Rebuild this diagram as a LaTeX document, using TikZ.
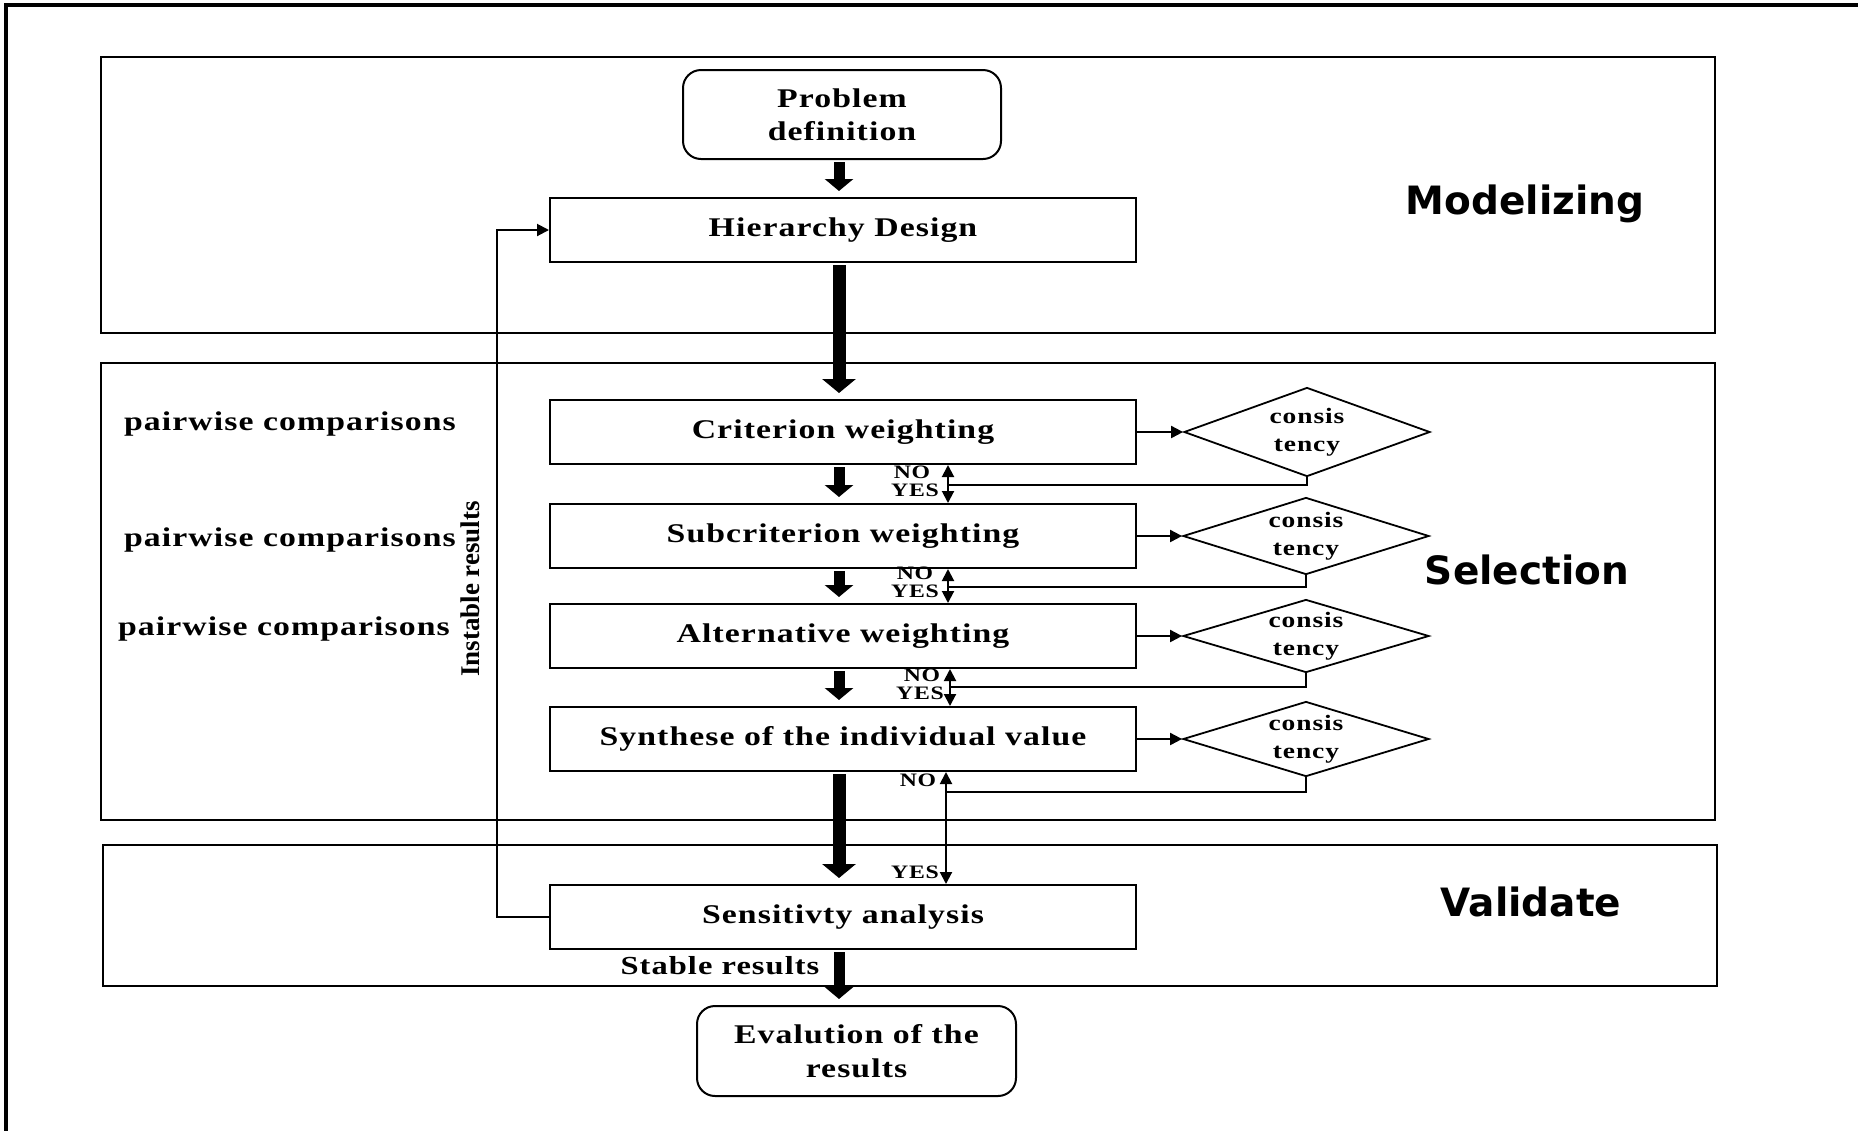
\documentclass[tikz,border=0pt]{standalone}
\usepackage{fontspec}
\setmainfont{Liberation Serif}
\newfontfamily\lsfont{Liberation Serif}[FakeStretch=1.25, LetterSpace=4]
\newfontfamily\sanslbl{DejaVu Sans}
\usetikzlibrary{arrows.meta,shapes.geometric}
\begin{document}
\begin{tikzpicture}[x=0.5pt,y=-0.5pt,
  panel/.style={draw, line width=1.2pt},
  box/.style={draw, line width=1pt, minimum width=293pt, minimum height=32pt, inner sep=0pt,
     font=\lsfont\bfseries\fontsize{13.5}{16.5}\selectfont, align=center},
  rbox/.style={box, rounded corners=9pt, minimum width=159pt, minimum height=44.5pt},
  dia/.style={draw, diamond, aspect=3, inner sep=0pt, line width=0.9pt, minimum width=123pt,
     font=\lsfont\bfseries\fontsize{11}{14}\selectfont, align=center},
  lbl/.style={font=\lsfont\bfseries\fontsize{13.5}{16}\selectfont, inner sep=0pt},
  yn/.style={font=\lsfont\bfseries\fontsize{9.5}{10}\selectfont, inner sep=0pt},
  phase/.style={font=\sanslbl\bfseries\fontsize{19.5}{22}\selectfont, inner sep=0pt},
  thinarrow/.style={line width=1pt, -{Triangle[width=6pt,length=6pt]}},
  dblarrow/.style={line width=1pt, {Triangle[width=6pt,length=6pt]}-{Triangle[width=6pt,length=6pt]}},
  fbline/.style={line width=1pt},
  bigarrow/.style={line width=5.5pt, -{Triangle[width=14pt,length=6pt]}, shorten >=3pt, shorten <=1pt},
  hugearrow/.style={line width=6.5pt, -{Triangle[width=16.5pt,length=7pt]}, shorten >=3pt, shorten <=1pt}
]
\useasboundingbox (0,0) rectangle (1858,1131);
\draw[line width=1.8pt] (1858,5) -- (6,5) -- (6,1131);

% panels
\draw[panel] (101,57) rectangle (1715,333);
\draw[panel] (101,363) rectangle (1715,820);
\draw[panel] (103,845) rectangle (1717,986);

\node[phase] (tmod) at (1525,204) {Modelizing};
\node[phase] (tsel) at (1527,570) {Selection};
\node[phase] (tval) at (1531,902) {Validate};

% main boxes
\node[rbox] (prob) at (842,114.5) {Problem\\definition};
\node[box] (hier) at (843,230) {Hierarchy Design};
\node[box] (crit) at (843,432) {Criterion weighting};
\node[box] (sub) at (843,536) {Subcriterion weighting};
\node[box] (alt) at (843,636) {Alternative weighting};
\node[box] (syn) at (843,739) {Synthese of the individual value};
\node[box] (sens) at (843,917) {Sensitivty analysis};
\node[rbox, minimum width=159.5pt, minimum height=45pt, font=\lsfont\bfseries\fontsize{13.5}{17}\selectfont] (eval) at (856.5,1051) {Evalution of the\\results};

% diamonds
\node[dia, minimum height=44.5pt] (d1) at (1307,432) {consis\\tency};
\node[dia, minimum height=38.5pt] (d2) at (1306,536) {consis\\tency};
\node[dia, minimum height=36.5pt] (d3) at (1306,636) {consis\\tency};
\node[dia, minimum height=37.5pt] (d4) at (1306,739) {consis\\tency};

% side labels
\node[lbl] (pc1) at (290,424) {pairwise comparisons};
\node[lbl] (pc2) at (290,540) {pairwise comparisons};
\node[lbl] (pc3) at (284,629) {pairwise comparisons};
\node[font=\bfseries\fontsize{13.5}{15}\selectfont, rotate=90, inner sep=0pt] (instab) at (470,589) {Instable results};
\node[lbl, font=\lsfont\bfseries\fontsize{13}{15}\selectfont] (stable) at (720,966) {Stable results};

% thick vertical arrows
\coordinate (ax) at (839,0);
\draw[bigarrow] (prob.south -| ax) -- (hier.north -| ax);
\draw[hugearrow] (hier.south -| ax) -- (crit.north -| ax);
\draw[bigarrow] (crit.south -| ax) -- (sub.north -| ax);
\draw[bigarrow] (sub.south -| ax) -- (alt.north -| ax);
\draw[bigarrow] (alt.south -| ax) -- (syn.north -| ax);
\draw[hugearrow] (syn.south -| ax) -- (sens.north -| ax);
\draw[bigarrow] (sens.south -| ax) -- (eval.north -| ax);

% box -> diamond
\draw[thinarrow] (crit.east) -- (d1.west);
\draw[thinarrow] (sub.east) -- (d2.west);
\draw[thinarrow] (alt.east) -- (d3.west);
\draw[thinarrow] (syn.east) -- (d4.west);

% feedback loops
\coordinate (f1) at (948,485);
\coordinate (f2) at (948,587);
\coordinate (f3) at (950,687);
\coordinate (f4) at (946,792);
\draw[fbline] (d1.south) |- (f1);
\draw[fbline] (d2.south) |- (f2);
\draw[fbline] (d3.south) |- (f3);
\draw[fbline] (d4.south) |- (f4);
\draw[dblarrow] (crit.south -| f1) -- (sub.north -| f1);
\draw[dblarrow] (sub.south -| f2) -- (alt.north -| f2);
\draw[dblarrow] (alt.south -| f3) -- (syn.north -| f3);
\draw[dblarrow] (syn.south -| f4) -- (sens.north -| f4);

\node[yn] (no1) at (912,472) {NO};
\node[yn] (yes1) at (915,490) {YES};
\node[yn] (no2) at (915,573) {NO};
\node[yn] (yes2) at (915,591) {YES};
\node[yn] (no3) at (922,675) {NO};
\node[yn] (yes3) at (920,693) {YES};
\node[yn] (no4) at (918,780) {NO};
\node[yn] (yes4) at (915,872) {YES};

% instable results loop
\coordinate (il) at (497,0);
\draw[thinarrow] (sens.west) -- (sens.west -| il) -- (hier.west -| il) -- (hier.west);
\end{tikzpicture}
\end{document}
